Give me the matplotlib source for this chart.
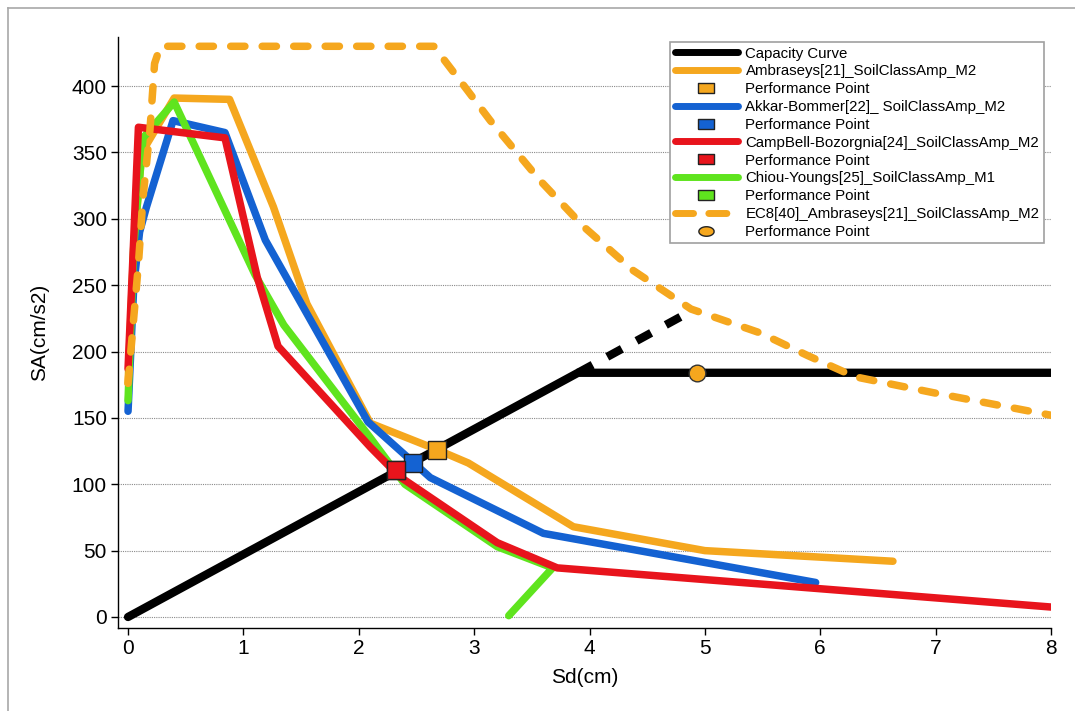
import matplotlib
matplotlib.use("Agg")
import matplotlib.pyplot as plt
from matplotlib.lines import Line2D
import numpy as np

plt.rcParams['font.family'] = ['Liberation Sans', 'DejaVu Sans']

# ---- data: spectral displacement Sd (cm) vs spectral acceleration SA (cm/s2) ----
cap_sd = [0.0, 3.9, 8.0]
cap_sa = [0.0, 184.0, 184.0]
cap_ext_sd = [3.9, 4.86]
cap_ext_sa = [184.0, 229.5]

amb_sd = [0.0, 0.05, 0.12, 0.40, 0.88, 1.26, 1.55, 2.10, 2.68, 2.95, 3.86, 5.00, 6.63]
amb_sa = [176, 280, 350, 391, 390, 309, 236, 146, 126, 116, 68, 50, 42]

akk_sd = [0.0, 0.05, 0.10, 0.16, 0.39, 0.84, 1.19, 2.08, 2.62, 3.60, 5.96]
akk_sa = [155, 250, 290, 309, 374, 365, 284, 147, 105, 63, 26]

cb_sd = [0.0, 0.04, 0.09, 0.84, 1.12, 1.30, 2.10, 2.35, 3.20, 3.72, 8.0]
cb_sa = [187, 266, 369, 361, 256, 204, 128, 106, 56, 37, 7.5]

cy_sd = [0.0, 0.05, 0.13, 0.40, 1.10, 1.35, 2.10, 2.40, 3.20, 3.68, 3.30]
cy_sa = [163, 280, 361, 388, 258, 220, 135, 100, 53, 37, 1]

ec8_sd = [0.0, 0.09, 0.13, 0.19, 0.23, 0.28, 2.65, 2.94, 3.14, 3.57, 3.95, 4.38,
          4.88, 5.48, 5.89, 6.30, 6.98, 8.0]
ec8_sa = [176, 266, 316, 367, 417, 430, 430, 397, 374, 329, 294, 261,
          232, 214, 197, 181, 169, 152]

pp_sd = {'amb': 2.68, 'akk': 2.47, 'cb': 2.32, 'cy': 2.32, 'ec8': 4.93}
pp_sa = {'amb': 126.0, 'akk': 116.0, 'cb': 110.5, 'cy': 110.5, 'ec8': 184.0}

labels = ['Capacity Curve',
          'Ambraseys[21]_SoilClassAmp_M2', 'Performance Point',
          'Akkar-Bommer[22]_ SoilClassAmp_M2', 'Performance Point',
          'CampBell-Bozorgnia[24]_SoilClassAmp_M2', 'Performance Point',
          'Chiou-Youngs[25]_SoilClassAmp_M1', 'Performance Point',
          'EC8[40]_Ambraseys[21]_SoilClassAmp_M2', 'Performance Point']

x_ticks = [0, 1, 2, 3, 4, 5, 6, 7, 8]
y_ticks = [0, 50, 100, 150, 200, 250, 300, 350, 400]

# ---- colours ----
C_BLACK = '#000000'
C_ORANGE = '#F5A71E'
C_BLUE = '#1462D2'
C_RED = '#E8141C'
C_GREEN = '#5FE41E'

fig = plt.figure(figsize=(10.75, 7.11), dpi=100)
ax = fig.add_axes([118 / 1075, 1 - 628 / 711, (1051 - 118) / 1075, (628 - 37) / 711])

line_kw = dict(lw=5.4, solid_capstyle='round', solid_joinstyle='round')

ax.plot(cap_sd, cap_sa, color=C_BLACK, lw=6.0, solid_capstyle='round', zorder=3)
ax.plot(cap_ext_sd, cap_ext_sa, color=C_BLACK, lw=6.0, linestyle=(0, (2.0, 2.0)),
        dash_capstyle='butt', zorder=3)
ax.plot(amb_sd, amb_sa, color=C_ORANGE, zorder=4, **line_kw)
ax.plot(akk_sd, akk_sa, color=C_BLUE, zorder=5, **line_kw)
ax.plot(cy_sd, cy_sa, color=C_GREEN, zorder=6, **line_kw)
ax.plot(cb_sd, cb_sa, color=C_RED, zorder=7, **line_kw)
ax.plot(ec8_sd, ec8_sa, color=C_ORANGE, lw=5.4, linestyle=(0, (1.9, 2.3)),
        dash_capstyle='round', dash_joinstyle='round', zorder=8)

sq = dict(marker='s', markersize=13, markeredgecolor='#222222', markeredgewidth=1.0,
          linestyle='none', zorder=10)
ax.plot(pp_sd['cy'], pp_sa['cy'], markerfacecolor=C_GREEN, **sq)
ax.plot(pp_sd['amb'], pp_sa['amb'], markerfacecolor=C_ORANGE, **sq)
ax.plot(pp_sd['akk'], pp_sa['akk'], markerfacecolor=C_BLUE, **sq)
ax.plot(pp_sd['cb'], pp_sa['cb'], markerfacecolor=C_RED, **sq)
ax.plot(pp_sd['ec8'], pp_sa['ec8'], marker='o', markersize=12, markerfacecolor=C_ORANGE,
        markeredgecolor='#333333', markeredgewidth=1.0, linestyle='none', zorder=10)

ax.set_xlim(-0.087, 8.0)
ax.set_ylim(-8.3, 437)
ax.set_xticks(x_ticks)
ax.set_yticks(y_ticks)
ax.tick_params(axis='both', labelsize=15, length=5, width=1.0, direction='out', pad=3)
ax.yaxis.grid(True, linestyle=(0, (1, 1)), color='#8a8a8a', lw=0.8)
ax.set_axisbelow(True)
for side in ('top', 'right'):
    ax.spines[side].set_visible(False)
for side in ('left', 'bottom'):
    ax.spines[side].set_linewidth(1.0)

ax.set_xlabel('Sd(cm)', fontsize=15, labelpad=7)
ax.set_ylabel('SA(cm/s2)', fontsize=15, labelpad=16)

# ---- legend ----
rect = [(-1.6, -1), (1.6, -1), (1.6, 1), (-1.6, 1), (-1.6, -1)]
th = np.linspace(0, 2 * np.pi, 40)
ellipse = list(zip(1.6 * np.cos(th), np.sin(th)))


def pp_handle(color, shape):
    return Line2D([], [], linestyle='none', marker=shape, markersize=11,
                  markerfacecolor=color, markeredgecolor='#222222', markeredgewidth=1.0)


def line_handle(color, ls='-'):
    if ls == '-':
        return Line2D([], [], color=color, lw=5, solid_capstyle='round')
    return Line2D([], [], color=color, lw=5, linestyle=(0, (2.6, 2.2)), dash_capstyle='round')


handles = [line_handle(C_BLACK),
           line_handle(C_ORANGE), pp_handle(C_ORANGE, rect),
           line_handle(C_BLUE), pp_handle(C_BLUE, rect),
           line_handle(C_RED), pp_handle(C_RED, rect),
           line_handle(C_GREEN), pp_handle(C_GREEN, rect),
           line_handle(C_ORANGE, '--'), pp_handle(C_ORANGE, ellipse)]

leg = ax.legend(handles, labels, loc='upper right', bbox_to_anchor=(0.9925, 0.9915),
                borderaxespad=0, fontsize=10.85, labelspacing=0.255, handlelength=4.2,
                handletextpad=0.5, borderpad=0.3, frameon=True, fancybox=False,
                framealpha=1.0, edgecolor='#a0a0a0')
leg.get_frame().set_linewidth(1.2)

# ---- outer frame (left and top edges) ----
fig.add_artist(Line2D([7.5 / 1075, 7.5 / 1075], [0, 1 - 7.5 / 711], color='#a8a8a8', lw=1.2,
                      transform=fig.transFigure))
fig.add_artist(Line2D([7.5 / 1075, 1], [1 - 7.5 / 711, 1 - 7.5 / 711], color='#a8a8a8', lw=1.2,
                      transform=fig.transFigure))

fig.savefig('out.png', dpi=100)
